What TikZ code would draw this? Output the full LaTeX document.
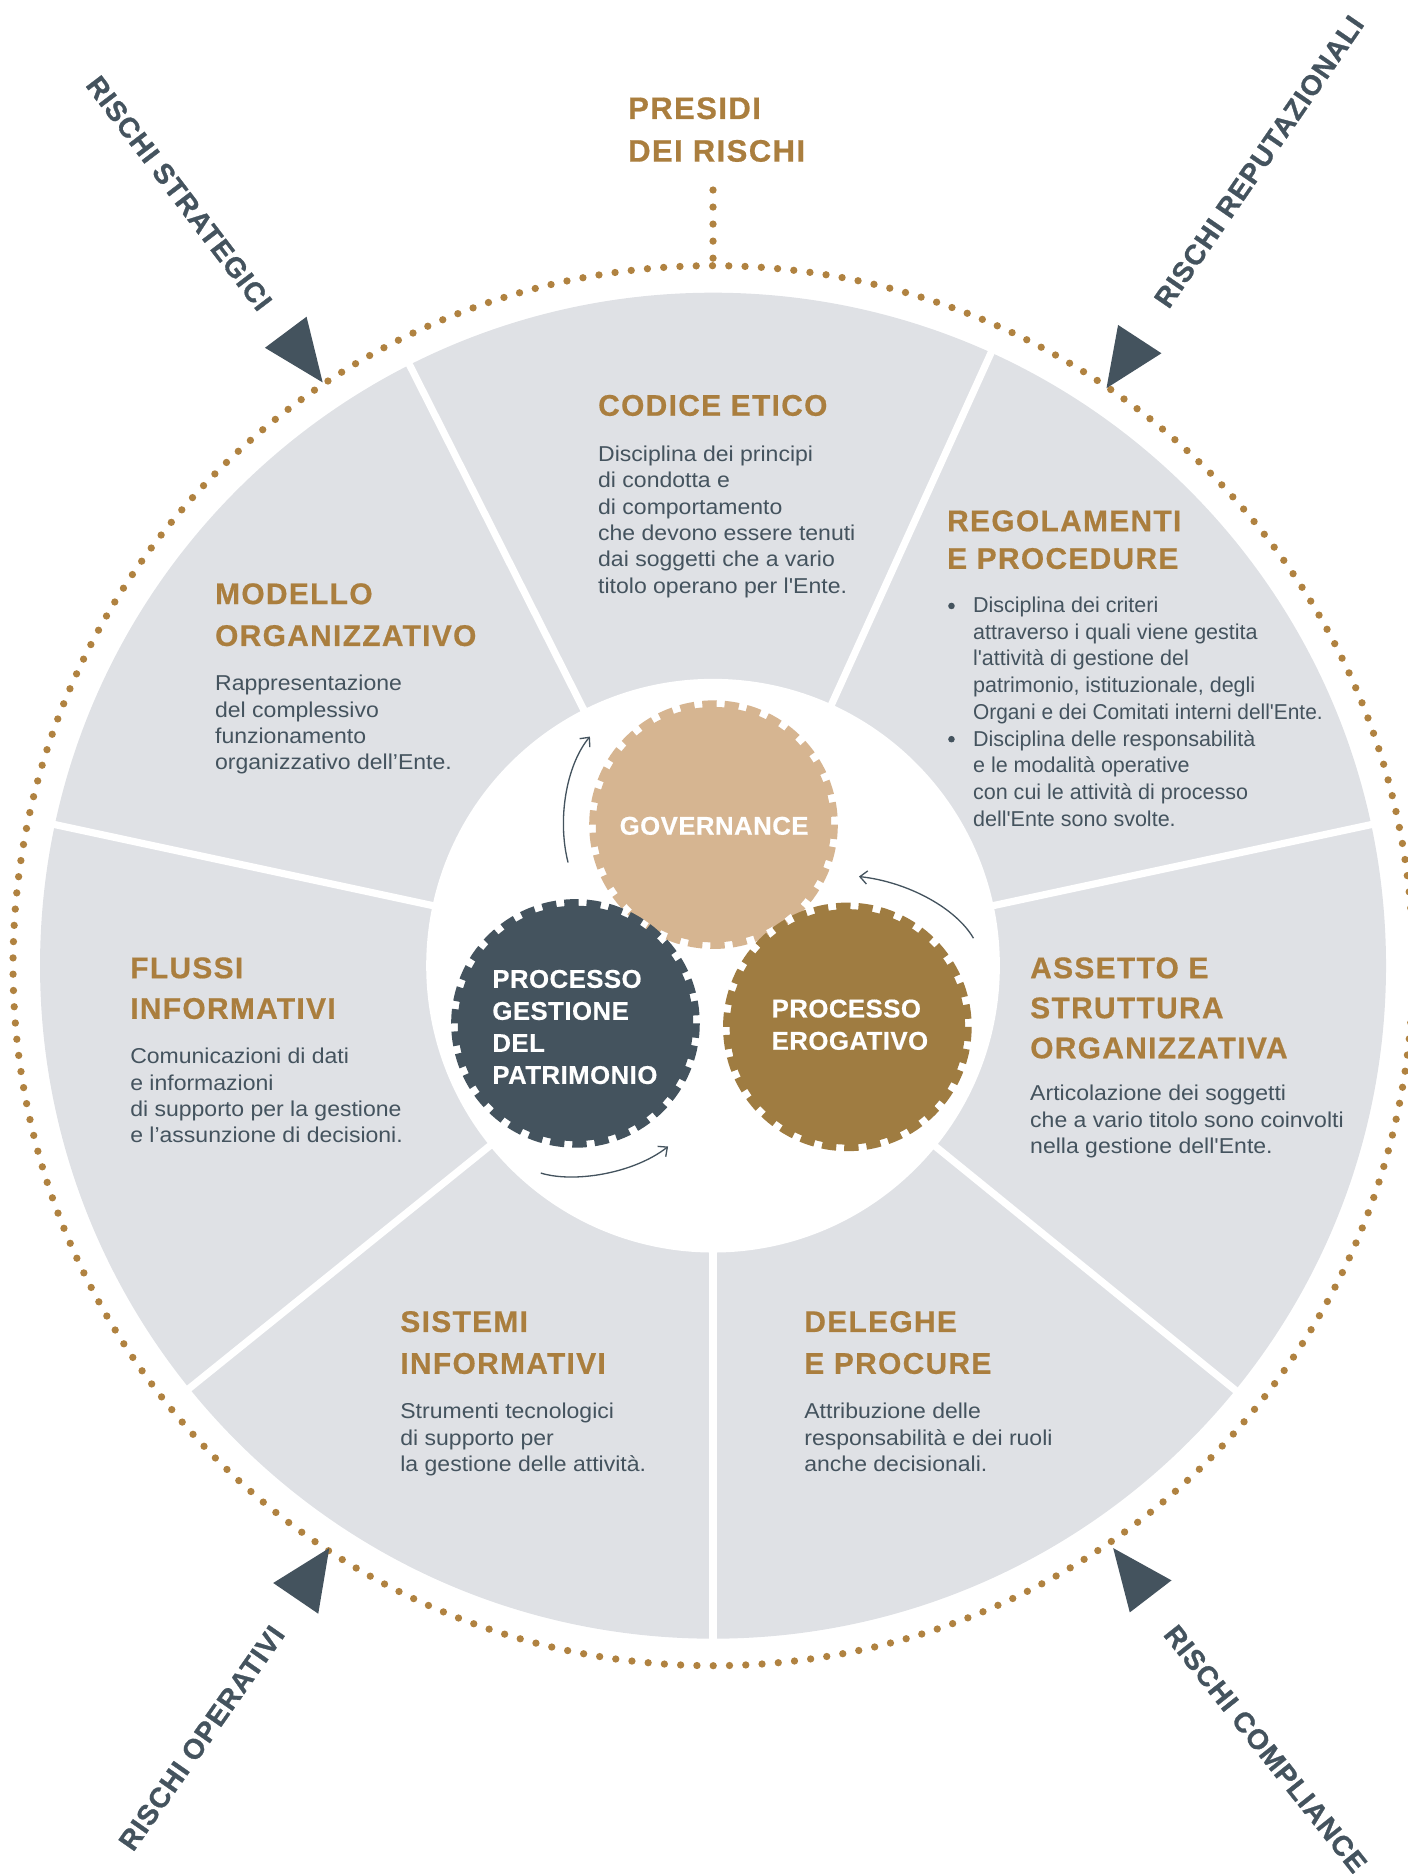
\documentclass[tikz,border=0pt]{standalone}
\usepackage{fontspec}
\setmainfont{Liberation Sans}[Ligatures=TeXOff]
\newfontfamily\bodyfont{Liberation Sans}[Ligatures=TeXOff,FakeStretch=1.07]
\newfontfamily\narrowfont{Liberation Sans}[Ligatures=TeXOff,FakeStretch=0.97]
\newfontfamily\ttlfont{Liberation Sans}[LetterSpace=4.5,FakeBold=0.6]
\newfontfamily\rskfont{Liberation Sans}[LetterSpace=3.5,FakeBold=1.0]
\newfontfamily\gearfont{Liberation Sans}[LetterSpace=2.0,FakeBold=0.5]
\usetikzlibrary{arrows.meta}
\definecolor{segGrey}{RGB}{223,225,229}
\definecolor{brownTxt}{RGB}{170,126,62}
\definecolor{dotBrown}{RGB}{176,130,64}
\definecolor{slate}{RGB}{68,83,94}
\definecolor{govTan}{RGB}{214,181,145}
\definecolor{eroBrown}{RGB}{159,124,65}
\tikzset{
  ttl/.style={anchor=north west, inner sep=0pt, outer sep=0pt, align=left, text=brownTxt, font=\ttlfont\bfseries\fontsize{25}{#1}\selectfont},
  ttl/.default=34.5,
  bdy/.style={anchor=north west, inner sep=0pt, outer sep=0pt, align=left, text=slate, font=\bodyfont\fontsize{18}{#1}\selectfont},
  bdy/.default=22,
  bdyreg/.style={anchor=north west, inner sep=0pt, outer sep=0pt, align=left, text=slate, font=\fontsize{18}{22.3}\selectfont},
  gtxt/.style={inner sep=0pt, outer sep=0pt, align=left, text=white, font=\gearfont\bfseries\fontsize{21.5}{#1}\selectfont},
  gtxt/.default=26.8,
  rsk/.style={inner sep=0pt, outer sep=0pt, text=slate, font=\rskfont\bfseries\fontsize{23.5}{28}\selectfont},
  arr/.style={draw=slate, line width=1.1pt, -{Straight Barb[length=6pt,width=11pt]}},
  tri/.style={fill=slate},
  bul/.style={circle, fill=slate, inner sep=0pt, minimum size=5.5pt},
  gearteeth/.style={line width=6, dash pattern=on 12 off 6.664},
  dots/.style={draw=dotBrown, line width=6.1, line cap=round},
}
\begin{document}
\begin{tikzpicture}[x=1pt,y=-1pt]
\useasboundingbox (0,0) rectangle (1177.3,1568);
\coordinate (C) at (596.6,808);
% disc and separators
\fill[segGrey] (C) circle (563.1);
\foreach \a in {90,39.1,-12.1,-65.6,-116.8,-167.9,141.1}
  \draw[white, line width=6] (C) -- ++(\a:575);
\fill[white] (C) circle (240);
% dotted ring
\draw[dots, dash pattern=on 0 off 13.6296, dash phase=6.8148] (C) circle (585.7);
\coordinate (pd1) at (596.6,159);
\coordinate (pd2) at (596.6,216);
\draw[dots, dash pattern=on 0 off 14.2495] (pd1) -- (pd2);
\node[ttl=35.7, font=\ttlfont\bfseries\fontsize{26}{35.7}\selectfont] (presidi) at (525.6,81.4) {PRESIDI\\DEI RISCHI};
% gears
\coordinate (G1) at (597,690);
\coordinate (G2) at (481.5,856.3);
\coordinate (G3) at (709,859.2);
\fill[govTan] (G1) circle (98.5);
\draw[govTan, gearteeth] (G1) circle (101);
\fill[slate] (G2) circle (98.5);
\draw[slate, gearteeth] (G2) circle (101);
\fill[eroBrown] (G3) circle (98.5);
\draw[eroBrown, gearteeth] (G3) circle (101);
\node[gtxt] (gov) at (597.5,691) {GOVERNANCE};
\node[gtxt, anchor=north west] (gest) at (412,811.5) {PROCESSO\\GESTIONE\\DEL\\PATRIMONIO};
\node[gtxt=27, anchor=north west] (ero) at (645.7,836.3) {PROCESSO\\EROGATIVO};
% curved arrows
\coordinate (a1s) at (475.3,721.7);
\coordinate (a1e) at (493.6,616.3);
\draw[arr] (a1s) .. controls (466,685) and (474,640) .. (a1e);
\coordinate (a2s) at (814.5,785);
\coordinate (a2e) at (718.7,733.4);
\draw[arr] (a2s) .. controls (800,760) and (760,738) .. (a2e);
\coordinate (a3s) at (452.5,981.5);
\coordinate (a3e) at (559,959.3);
\draw[arr] (a3s) .. controls (480,990) and (530,982) .. (a3e);
% segment texts
\node[ttl] (t-cod) at (500.5,330.4) {CODICE ETICO};
\node[bdy] (b-cod) at (500.5,373.2) {Disciplina dei principi\\di condotta e\\di comportamento\\che devono essere tenuti\\dai soggetti che a vario\\titolo operano per l'Ente.};
\node[ttl=31.5] (t-reg) at (792.5,427) {REGOLAMENTI\\E PROCEDURE};
\node[bul] (bl1) at (796.1,507) {};
\node[bdyreg] (b-reg1) at (814.2,499.6) {Disciplina dei criteri\\attraverso i quali viene gestita\\l'attività di gestione del\\patrimonio, istituzionale, degli\\{\narrowfont Organi e dei Comitati interni dell'Ente.}};
\node[bul] (bl2) at (796.1,618.5) {};
\node[bdyreg] (b-reg2) at (814.2,611.1) {Disciplina delle responsabilità\\e le modalità operative\\con cui le attività di processo\\dell'Ente sono svolte.};
\node[ttl=35] (t-mod) at (180,488) {MODELLO\\ORGANIZZATIVO};
\node[bdy] (b-mod) at (180,565) {Rappresentazione\\del complessivo\\funzionamento\\organizzativo dell’Ente.};
\node[ttl=33.5] (t-ass) at (862,801) {ASSETTO E\\STRUTTURA\\ORGANIZZATIVA};
\node[bdy] (b-ass) at (862,908) {Articolazione dei soggetti\\che a vario titolo sono coinvolti\\nella gestione dell'Ente.};
\node[ttl=34] (t-flu) at (109,801) {FLUSSI\\INFORMATIVI};
\node[bdy] (b-flu) at (109,877) {Comunicazioni di dati\\e informazioni\\di supporto per la gestione\\e l’assunzione di decisioni.};
\node[ttl=35] (t-sis) at (335,1097) {SISTEMI\\INFORMATIVI};
\node[bdy] (b-sis) at (335,1174) {Strumenti tecnologici\\di supporto per\\la gestione delle attività.};
\node[ttl=35] (t-del) at (673,1097) {DELEGHE\\E PROCURE};
\node[bdy] (b-del) at (673,1174) {Attribuzione delle\\responsabilità e dei ruoli\\anche decisionali.};
% risk triangles
\coordinate (s1) at (270,320); \coordinate (s2) at (221.7,291); \coordinate (s3) at (256.5,265);
\fill[tri] (s1) -- (s2) -- (s3) -- cycle;
\coordinate (r1) at (925.8,324.8); \coordinate (r2) at (935.5,271.9); \coordinate (r3) at (971.8,295.6);
\fill[tri] (r1) -- (r2) -- (r3) -- cycle;
\coordinate (o1) at (275.5,1295.3); \coordinate (o2) at (228.6,1324.5); \coordinate (o3) at (266.3,1350.2);
\fill[tri] (o1) -- (o2) -- (o3) -- cycle;
\coordinate (c1) at (931.4,1295.3); \coordinate (c2) at (980.2,1322.3); \coordinate (c3) at (945.3,1349.1);
\fill[tri] (c1) -- (c2) -- (c3) -- cycle;
% risk labels
\node[rsk, rotate=-52.7] (rs) at (149.9,161.7) {RISCHI STRATEGICI};
\node[rsk, rotate=55.5] (rr) at (1053.4,135.2) {RISCHI REPUTAZIONALI};
\node[rsk, rotate=55] (ro) at (168.7,1454.2) {RISCHI OPERATIVI};
\node[rsk, rotate=-51.5] (rc) at (1058.9,1463.3) {RISCHI COMPLIANCE};
\end{tikzpicture}
\end{document}
